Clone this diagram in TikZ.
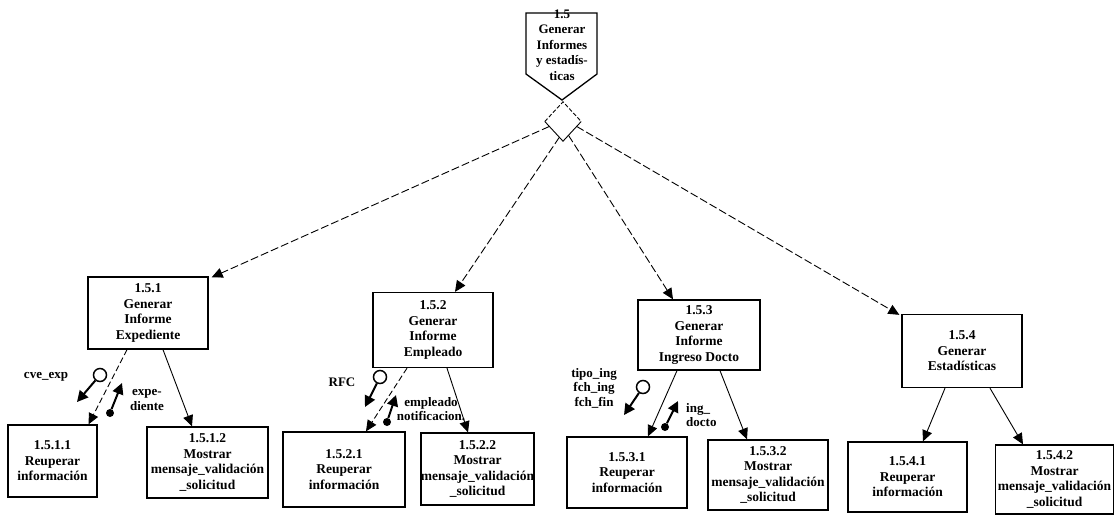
\documentclass[tikz,border=0pt]{standalone}
\usepackage{fontspec}
\setmainfont{Liberation Serif}
\usetikzlibrary{arrows.meta,shapes.geometric,calc}
\begin{document}
\begin{tikzpicture}[x=1pt,y=-1pt,
  box/.style={draw,line width=1.3pt,align=center,inner sep=0pt,font=\bfseries\fontsize{13.5}{15.5}\selectfont},
  lbl/.style={align=center,inner sep=0pt,font=\bfseries\fontsize{13}{14.5}\selectfont},
  arr/.style={line width=0.9pt,-{Triangle[length=11pt,width=10pt]}},
  darr/.style={arr,dash pattern=on 6pt off 3pt},
  tarr/.style={arr,dash pattern=on 8pt off 3pt},
  carr/.style={line width=2pt,-{Triangle[length=11pt,width=11pt]}},
  cpl/.style={circle,draw,line width=1.5pt,minimum size=13,inner sep=0pt},
  dot/.style={circle,fill,minimum size=8,inner sep=0pt}]
\useasboundingbox (0,0) rectangle (1115,515);
% top process
\draw[line width=1.3pt] (526,13) -- (597,13) -- (597,74) -- (562,100) -- (526,74) -- cycle;
\node[lbl,font=\bfseries\fontsize{13}{15.5}\selectfont] (top) at (562,45) {1.5\\Generar\\Informes\\y estadís-\\ticas};
\node[diamond,minimum width=36,minimum height=39,inner sep=0pt] (dia) at (563,121.5) {};
\draw[line width=0.9pt,dash pattern=on 4pt off 2pt] (dia.west) -- (dia.north) -- (dia.east);
\draw[line width=0.9pt] (dia.west) -- (dia.south) -- (dia.east);
% level 2
\node[box,minimum width=120,minimum height=72] (n151) at (148,313) {1.5.1\\Generar\\Informe\\Expediente};
\node[box,minimum width=120,minimum height=75] (n152) at (433,330) {1.5.2\\Generar\\Informe\\Empleado};
\node[box,minimum width=122,minimum height=70] (n153) at (699,335) {1.5.3\\Generar\\Informe\\Ingreso Docto};
\node[box,minimum width=120,minimum height=73] (n154) at (962,351) {1.5.4\\Generar\\Estadísticas};
% level 3
\node[box,minimum width=89,minimum height=72] (n1511) at (52.5,461) {1.5.1.1\\Reuperar\\información};
\node[box,minimum width=121,minimum height=71] (n1512) at (207.5,462.5) {1.5.1.2\\Mostrar\\mensaje\_validación\\\_solicitud};
\node[box,minimum width=122,minimum height=75] (n1521) at (344,469.5) {1.5.2.1\\Reuperar\\información};
\node[box,minimum width=111,minimum height=72] (n1522) at (477.5,469) {1.5.2.2\\Mostrar\\mensaje\_validación\\\_solicitud};
\node[box,minimum width=120,minimum height=71] (n1531) at (627,472.5) {1.5.3.1\\Reuperar\\información};
\node[box,minimum width=120,minimum height=70] (n1532) at (768,475) {1.5.3.2\\Mostrar\\mensaje\_validación\\\_solicitud};
\node[box,minimum width=119,minimum height=70] (n1541) at (907.5,477) {1.5.4.1\\Reuperar\\información};
\node[box,minimum width=118,minimum height=69] (n1542) at (1054.5,479.5) {1.5.4.2\\Mostrar\\mensaje\_validación\\\_solicitud};
% diamond connectors
\draw[tarr] ($(dia.west)!0.25!(dia.south)$) -- ($(n151.north east)+(3,1)$);
\draw[tarr] ($(dia.south)!0.2!(dia.west)$) -- ($(n152.north)+(22,0)$);
\draw[tarr] ($(dia.south)!0.3!(dia.east)$) -- ($(n153.north)+(-26,0)$);
\draw[tarr] ($(dia.east)!0.25!(dia.south)$) -- ($(n154.north west)+(-2,1)$);
% child connectors
\draw[darr] ($(n151.south)+(-21,0)$) -- ($(n1511.north)+(36,0)$);
\draw[arr] ($(n151.south)+(15,0)$) -- ($(n1512.north)+(-15.5,0)$);
\draw[darr] ($(n152.south)+(-26,0)$) -- ($(n1521.north)+(22,0)$);
\draw[arr] ($(n152.south)+(14,0)$) -- ($(n1522.north)+(-9.5,0)$);
\draw[arr] ($(n153.south)+(-22,0)$) -- ($(n1531.north)+(21,0)$);
\draw[arr] ($(n153.south)+(21,0)$) -- ($(n1532.north)+(-21,0)$);
\draw[arr] ($(n154.south)+(-17,0)$) -- ($(n1541.north)+(15.5,0)$);
\draw[arr] ($(n154.south)+(28,0)$) -- ($(n1542.north)+(-31.5,0)$);
% couples 1.5.1
\node[cpl] (c1) at (100,375) {};
\coordinate (c1e) at (77,402);
\draw[carr] (c1) -- (c1e);
\node[lbl] (l1) at (46,377) {cve\_exp};
\node[dot] (d1) at (110,413) {};
\coordinate (d1e) at (122,383);
\draw[carr] (d1) -- (d1e);
\node[lbl] (l2) at (147,400) {expe-\\diente};
% couples 1.5.2
\node[lbl] (l4) at (431,409) {empleado\\notificacion.};
\node[cpl] (c2) at (380,377) {};
\coordinate (c2e) at (365,407);
\draw[carr] (c2) -- (c2e);
\node[lbl] (l3) at (342,382) {RFC};
\node[dot] (d2) at (387,422) {};
\coordinate (d2e) at (396,395);
\draw[carr] (d2) -- (d2e);
% couples 1.5.3
\node[cpl] (c3) at (643,387) {};
\coordinate (c3e) at (624,415);
\draw[carr] (c3) -- (c3e);
\node[lbl] (l5) at (594,388) {tipo\_ing\\fch\_ing\\fch\_fin};
\node[dot] (d3) at (665,427) {};
\coordinate (d3e) at (678,401);
\draw[carr] (d3) -- (d3e);
\node[lbl,align=left,anchor=west] (l6) at (686,415) {ing\_\\docto};
\end{tikzpicture}
\end{document}
